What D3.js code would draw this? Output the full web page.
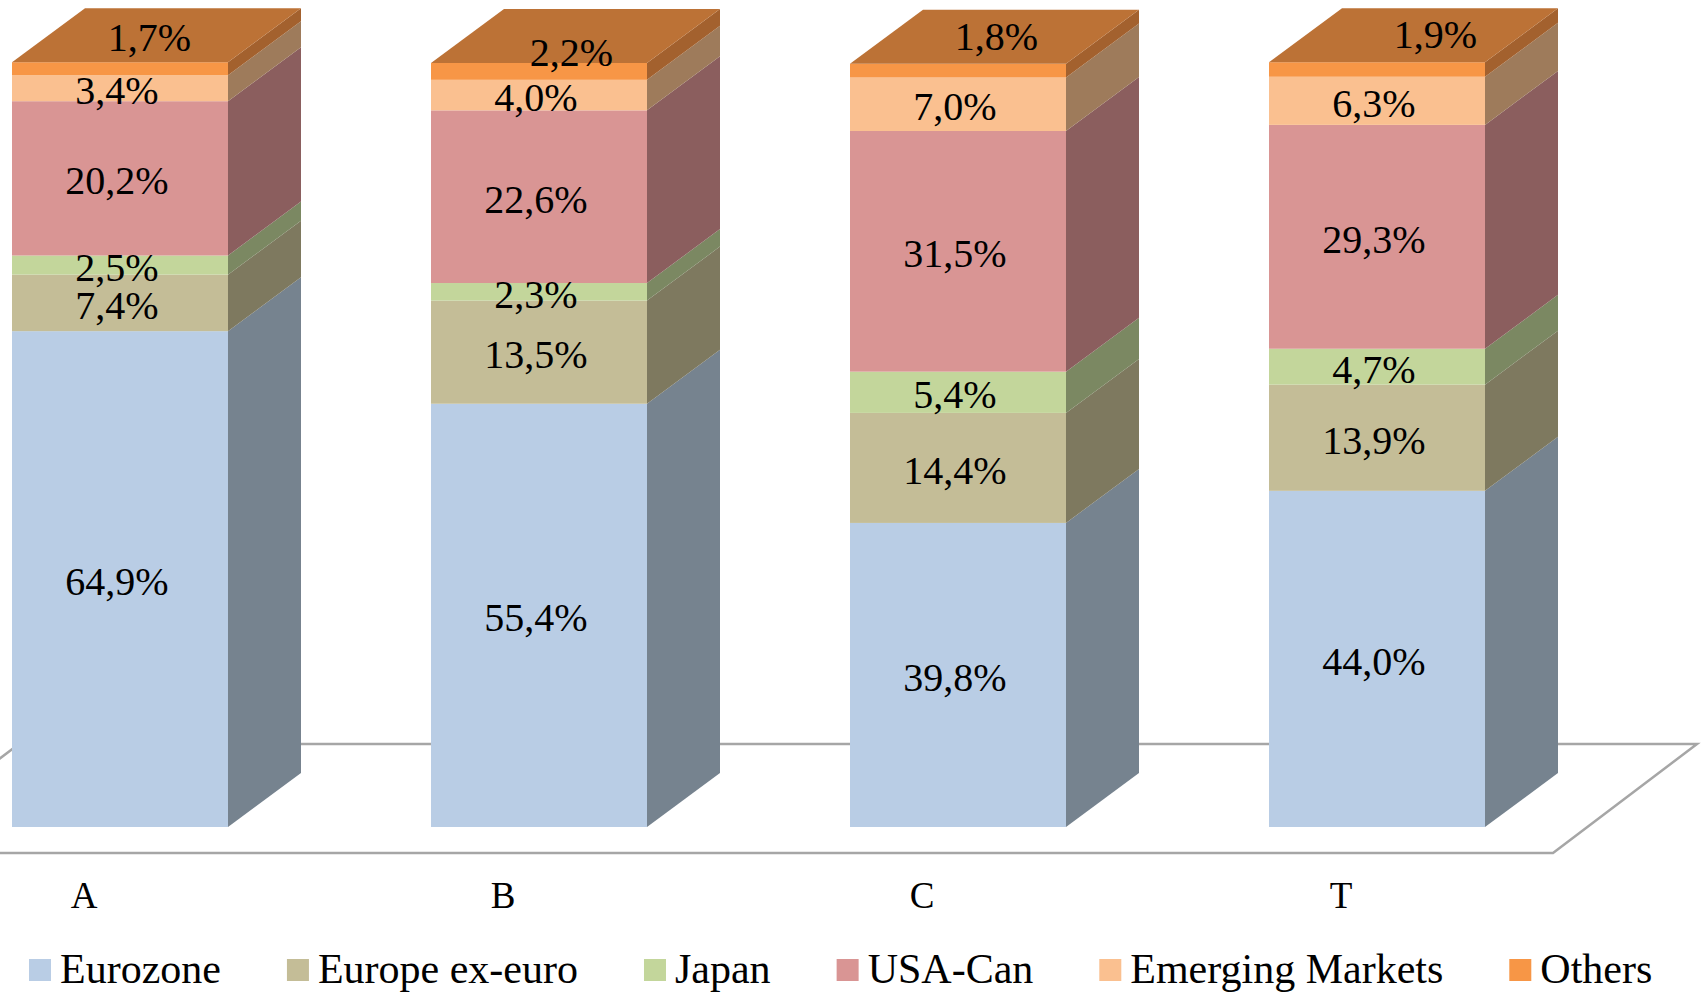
<!DOCTYPE html>
<html>
<head>
<meta charset="utf-8">
<script src="https://cdn.jsdelivr.net/npm/d3@7"></script>
<style>
  body{margin:0;background:#fff;overflow:hidden;}
  text{font-family:"Liberation Serif","Times New Roman",serif;fill:#000;}
</style>
</head>
<body>
<div id="chart"></div>
<script>
// data
var categories=["A","B","C","T"];
var seriesNames=["Eurozone","Europe ex-euro","Japan","USA-Can","Emerging Markets","Others"];
var eurozone=[64.9,55.4,39.8,44.0];
var europeExEuro=[7.4,13.5,14.4,13.9];
var japan=[2.5,2.3,5.4,4.7];
var usaCan=[20.2,22.6,31.5,29.3];
var emerging=[3.4,4.0,7.0,6.3];
var others=[1.7,2.2,1.8,1.9];

var width=1702,height=992;
var frontCol=["#B9CDE5","#C4BD97","#C3D69B","#D99594","#FAC090","#F79646"],
    sideCol =["#76838F","#7E795F","#7B8862","#8B5E5E","#9E7B5B","#A3612E"],
    topCol  ="#BC7236";
var dx=73,dy=-54;   // depth of the 3d bars

var table=categories.map(function(c,i){
  return {cat:c,"Eurozone":eurozone[i],"Europe ex-euro":europeExEuro[i],"Japan":japan[i],
          "USA-Can":usaCan[i],"Emerging Markets":emerging[i],"Others":others[i]};
});
var stack=d3.stack().keys(seriesNames)(table);

var svg=d3.select('#chart').append('svg')
    .attr('width',width).attr('height',height);

var x=d3.scaleBand().domain(categories).range([12,1485]).paddingInner(0.4845).paddingOuter(0);
var y=d3.scaleLinear().domain([0,100]).range([827,63]);
var bw=x.bandwidth();
var fmt=function(v){return d3.format(".1f")(v).replace(".",",")+"%";};

// floor
svg.append('polygon')
   .attr('points',[[-125,853],[1553,853],[1697,744],[19,744]].map(function(p){return p.join(',');}).join(' '))
   .attr('fill','#fff').attr('stroke','#A6A6A6').attr('stroke-width',2.5);

var bars=svg.append('g');
categories.forEach(function(c,i){
  var x0=x(c),x1=x0+bw;
  var g=bars.append('g');
  stack.forEach(function(s,k){
    var d=s[i],yb=y(d[0]),yt=y(d[1]);
    g.append('rect').attr('x',x0).attr('y',yt).attr('width',bw).attr('height',yb-yt)
     .attr('fill',frontCol[k]);
    g.append('polygon')
     .attr('points',[[x1,yb],[x1+dx,yb+dy],[x1+dx,yt+dy],[x1,yt]].join(' '))
     .attr('fill',sideCol[k]);
  });
  var top=y(stack[stack.length-1][i][1]);
  g.append('polygon')
   .attr('points',[[x0,top],[x1,top],[x1+dx,top+dy],[x0+dx,top+dy]].join(' '))
   .attr('fill',topCol);
});

// value labels
var topNudge=[[-7,0],[-4,14],[2,-3],[22,-3]];
var labels=svg.append('g').attr('font-size',40).attr('text-anchor','middle');
stack.forEach(function(s,k){
  s.forEach(function(d,i){
    var cx=x(categories[i])+bw/2-3,cy;
    if(k===stack.length-1){
      cx=cx+3+dx/2+topNudge[i][0];
      cy=y(d[1])+dy/2+topNudge[i][1];
    } else {
      cy=(y(d[0])+y(d[1]))/2;
    }
    labels.append('text').attr('x',cx).attr('y',cy+16).text(fmt(d[1]-d[0]));
  });
});

// category labels
svg.append('g').selectAll('text').data(categories).enter().append('text')
   .attr('x',function(d){return x(d)+bw/2-36;})
   .attr('y',908).attr('font-size',37).attr('text-anchor','middle')
   .text(function(d){return d;});

// legend
var lx=29;
var legend=svg.append('g');
seriesNames.forEach(function(n,k){
  legend.append('rect').attr('x',lx).attr('y',959).attr('width',22).attr('height',22).attr('fill',frontCol[k]);
  var t=legend.append('text').attr('x',lx+31).attr('y',983).attr('font-size',42).text(n);
  lx=lx+31+t.node().getComputedTextLength()+66;
});
</script>
</body>
</html>
